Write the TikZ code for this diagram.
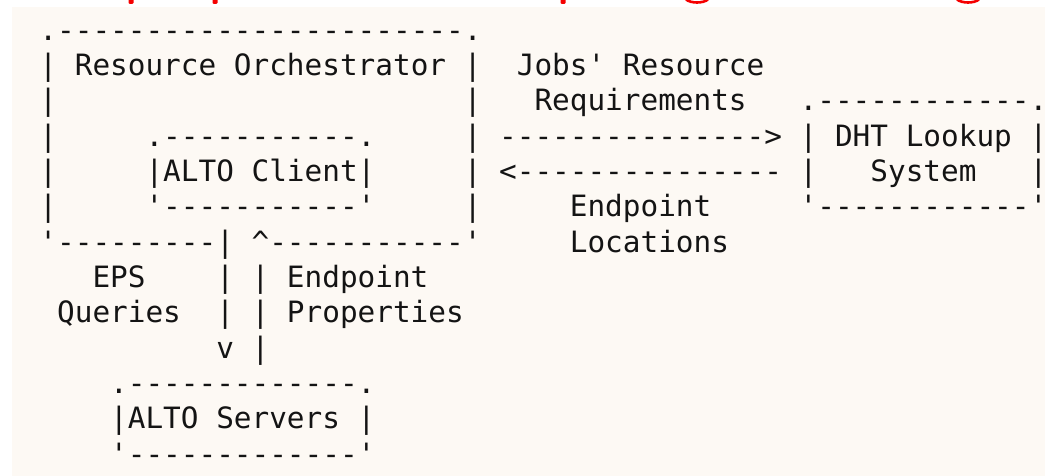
\documentclass[tikz,border=0pt]{standalone}
\usepackage{fontspec}
\setmonofont{DejaVu Sans Mono}
\definecolor{paper}{HTML}{FDF9F4}
\definecolor{heading}{HTML}{F50000}
% place a run of monospaced characters: name, column, row, text
\newcommand\asciiat[4]{\node[ascii] (#1) at ({39.46+17.68*(#2)},{-(75.7+35.3*((#3)-1))}) {#4};}
\begin{document}
\begin{tikzpicture}[x=1pt,y=1pt,
  ascii/.style={anchor=base west, inner sep=0pt, outer sep=0pt,
    font=\ttfamily\fontsize{29.37}{35.3}\selectfont, text=black!92}]
\useasboundingbox (0,0) rectangle (1045,-476);
\fill[white] (0,0) rectangle (1045,-476);
\fill[paper] (12,-7) rectangle (1045,-476);

% lower edge of the heading line above
\begin{scope}[heading]
  \fill (128.5,0) rectangle (133.5,-3) arc[start angle=0,end angle=-180,x radius=2.5,y radius=1];
  \fill (212.5,0) rectangle (217.5,-3) arc[start angle=0,end angle=-180,x radius=2.5,y radius=1];
  \fill (560.5,0) rectangle (565.5,-3) arc[start angle=0,end angle=-180,x radius=2.5,y radius=1];
  \draw[line width=2.6pt] (686,0.5) .. controls (691,-3.5) and (703,-3.5) .. (708,0.5);
  \draw[line width=2.6pt] (957,0.5) .. controls (962,-3.5) and (974,-3.5) .. (979,0.5);
\end{scope}

% Resource Orchestrator box
\asciiat{orchTop}{0}{0}{.-----------------------.}
\asciiat{orchTitle}{0}{1}{| Resource Orchestrator |}
\asciiat{orchL2}{0}{2}{|}
\asciiat{orchR2}{24}{2}{|}
\asciiat{orchL3}{0}{3}{|}
\asciiat{orchR3}{24}{3}{|}
\asciiat{orchL4}{0}{4}{|}
\asciiat{orchR4}{24}{4}{|}
\asciiat{orchL5}{0}{5}{|}
\asciiat{orchR5}{24}{5}{|}
\asciiat{orchBottom}{0}{6}{'---------| \textasciicircum-----------'}

% ALTO Client box
\asciiat{clientTop}{6}{3}{.-----------.}
\asciiat{client}{6}{4}{|ALTO Client|}
\asciiat{clientBottom}{6}{5}{'-----------'}

% exchange with the DHT
\asciiat{jobsA}{27}{1}{Jobs' Resource}
\asciiat{jobsB}{28}{2}{Requirements}
\asciiat{toDht}{26}{3}{--------------->}
\asciiat{fromDht}{26}{4}{<---------------}
\asciiat{locA}{30}{5}{Endpoint}
\asciiat{locB}{30}{6}{Locations}

% DHT Lookup System box
\asciiat{dhtTop}{43}{2}{.------------.}
\asciiat{dhtTitle}{43}{3}{| DHT Lookup |}
\asciiat{dhtL}{43}{4}{|}
\asciiat{dhtSys}{47}{4}{System}
\asciiat{dhtR}{56}{4}{|}
\asciiat{dhtBottom}{43}{5}{'------------'}

% exchange with the ALTO servers
\asciiat{epsA}{3}{7}{EPS}
\asciiat{epsB}{1}{8}{Queries}
\asciiat{linkA}{10}{7}{| | Endpoint}
\asciiat{linkB}{10}{8}{| | Properties}
\asciiat{linkC}{10}{9}{v |}

% ALTO Servers box
\asciiat{serversTop}{4}{10}{.-------------.}
\asciiat{servers}{4}{11}{|ALTO Servers |}
\asciiat{serversBottom}{4}{12}{'-------------'}
\end{tikzpicture}
\end{document}
